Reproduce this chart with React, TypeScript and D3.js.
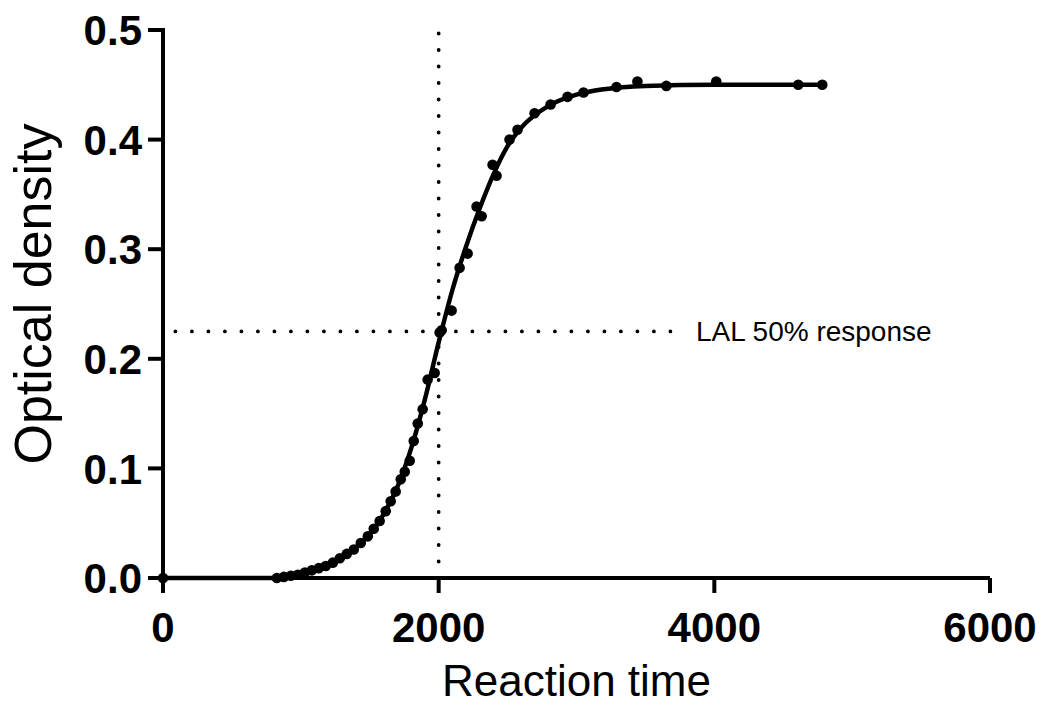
import * as d3 from "d3";

const WIDTH = 1041;
const HEIGHT = 704;
const MARGIN = { top: 30, right: 51, bottom: 126, left: 163 };
const PLOT_WIDTH = WIDTH - MARGIN.left - MARGIN.right;
const PLOT_HEIGHT = HEIGHT - MARGIN.top - MARGIN.bottom;
const FONT = "'Liberation Sans', Arial, sans-serif";

// measured points (reaction time, OD)
const times = [
  0, 826, 877, 928, 978, 1029, 1080, 1130, 1181, 1232, 1283, 1333, 1384, 1435, 1486, 1529, 1572, 1616, 1652, 1688, 1725, 1754,
  1790, 1819, 1848, 1884, 1920, 1971, 2007, 2022, 2094, 2152, 2210, 2275, 2312, 2391, 2420, 2514, 2572, 2696, 2812, 2935,
  3051, 3290, 3442, 3652, 4014, 4609, 4783,
];
const densities = [
  0, 0, 0.001, 0.002, 0.003, 0.005, 0.007, 0.009, 0.011, 0.014, 0.018, 0.022, 0.026, 0.032, 0.038, 0.045, 0.052, 0.061, 0.07,
  0.079, 0.09, 0.097, 0.107, 0.125, 0.141, 0.154, 0.181, 0.187, 0.224, 0.226, 0.244, 0.283, 0.296, 0.339, 0.33, 0.377, 0.367,
  0.4, 0.409, 0.424, 0.432, 0.439, 0.443, 0.448, 0.453, 0.449, 0.453, 0.45, 0.45,
];

// fitted curve
const fitTimes = [0, 800, 1000, 1200, 1400, 1500, 1600, 1700, 1800, 1900, 2000, 2100, 2200, 2300, 2400, 2500, 2600, 2800, 3000, 3200, 3500, 4000, 4783];
const fitDensities = [0, 0, 0.004, 0.012, 0.028, 0.04, 0.058, 0.083, 0.118, 0.163, 0.215, 0.263, 0.303, 0.338, 0.369, 0.394, 0.411, 0.431, 0.441, 0.446, 0.449, 0.45, 0.45];

const xTicks = [0, 2000, 4000, 6000];
const yTicks = [0, 0.1, 0.2, 0.3, 0.4, 0.5];

const halfResponse = 0.225;
const halfTime = 2000;
const halfLineStart = 90;
const halfLineEnd = 3780;
const halfLabel = "LAL 50% response";

type Point = { x: number; y: number };

export default function App() {
  const x = d3.scaleLinear().domain([0, 6000]).range([0, PLOT_WIDTH]);
  const y = d3.scaleLinear().domain([0, 0.5]).range([PLOT_HEIGHT, 0]);

  const points: Point[] = times.map((t, i) => ({ x: t, y: densities[i] }));
  const fit: Point[] = fitTimes.map((t, i) => ({ x: t, y: fitDensities[i] }));
  const line = d3.line<Point>().x((p) => x(p.x)).y((p) => y(p.y)).curve(d3.curveMonotoneX);

  return (
    <svg width={WIDTH} height={HEIGHT} style={{ position: "absolute", left: 0, top: 0, background: "#fff" }}>
      <rect width={WIDTH} height={HEIGHT} fill="#fff" />
      <g transform={`translate(${MARGIN.left} ${MARGIN.top})`}>
        {/* dotted reference lines */}
        <line x1={x(halfTime)} x2={x(halfTime)} y1={y(0)} y2={-3} stroke="#000" strokeWidth="3.8" strokeLinecap="round" strokeDasharray="0 16.5" />
        <line x1={x(halfLineStart)} x2={x(halfLineEnd)} y1={y(halfResponse)} y2={y(halfResponse)} stroke="#000" strokeWidth="3.8" strokeLinecap="round" strokeDasharray="0 16.5" />
        <text x={x(halfLineEnd) + 12} y={y(halfResponse) + 10} fontFamily={FONT} fontSize="28" fill="#000">
          {halfLabel}
        </text>

        {/* axes */}
        <line x1={-15} x2={PLOT_WIDTH} y1={PLOT_HEIGHT} y2={PLOT_HEIGHT} stroke="#000" strokeWidth="4" />
        <line x1={0} x2={0} y1={-2} y2={PLOT_HEIGHT + 15} stroke="#000" strokeWidth="4" />
        {yTicks.map((t) => (
          <g key={t}>
            <line x1={-15} x2={0} y1={y(t)} y2={y(t)} stroke="#000" strokeWidth="4" />
            <text x={-21} y={y(t)} dy="0.36em" textAnchor="end" fontFamily={FONT} fontWeight="700" fontSize="42" fill="#000">
              {t.toFixed(1)}
            </text>
          </g>
        ))}
        {xTicks.map((t) => (
          <g key={t}>
            <line x1={x(t)} x2={x(t)} y1={PLOT_HEIGHT} y2={PLOT_HEIGHT + 15} stroke="#000" strokeWidth="4" />
            <text x={x(t)} y={PLOT_HEIGHT + 64} textAnchor="middle" fontFamily={FONT} fontWeight="700" fontSize="42" fill="#000">
              {t}
            </text>
          </g>
        ))}

        {/* curve + points */}
        <path d={line(fit) ?? undefined} fill="none" stroke="#000" strokeWidth="4.5" />
        {points.map((p, i) => (
          <circle key={i} cx={x(p.x)} cy={y(p.y)} r="5.3" fill="#000" />
        ))}
      </g>
      <text x={MARGIN.left + PLOT_WIDTH / 2} y={696} textAnchor="middle" fontFamily={FONT} fontSize="44" fill="#000">
        Reaction time
      </text>
      <text transform={`translate(51 294) rotate(-90)`} textAnchor="middle" fontFamily={FONT} fontSize="52" fill="#000">
        Optical density
      </text>
    </svg>
  );
}
